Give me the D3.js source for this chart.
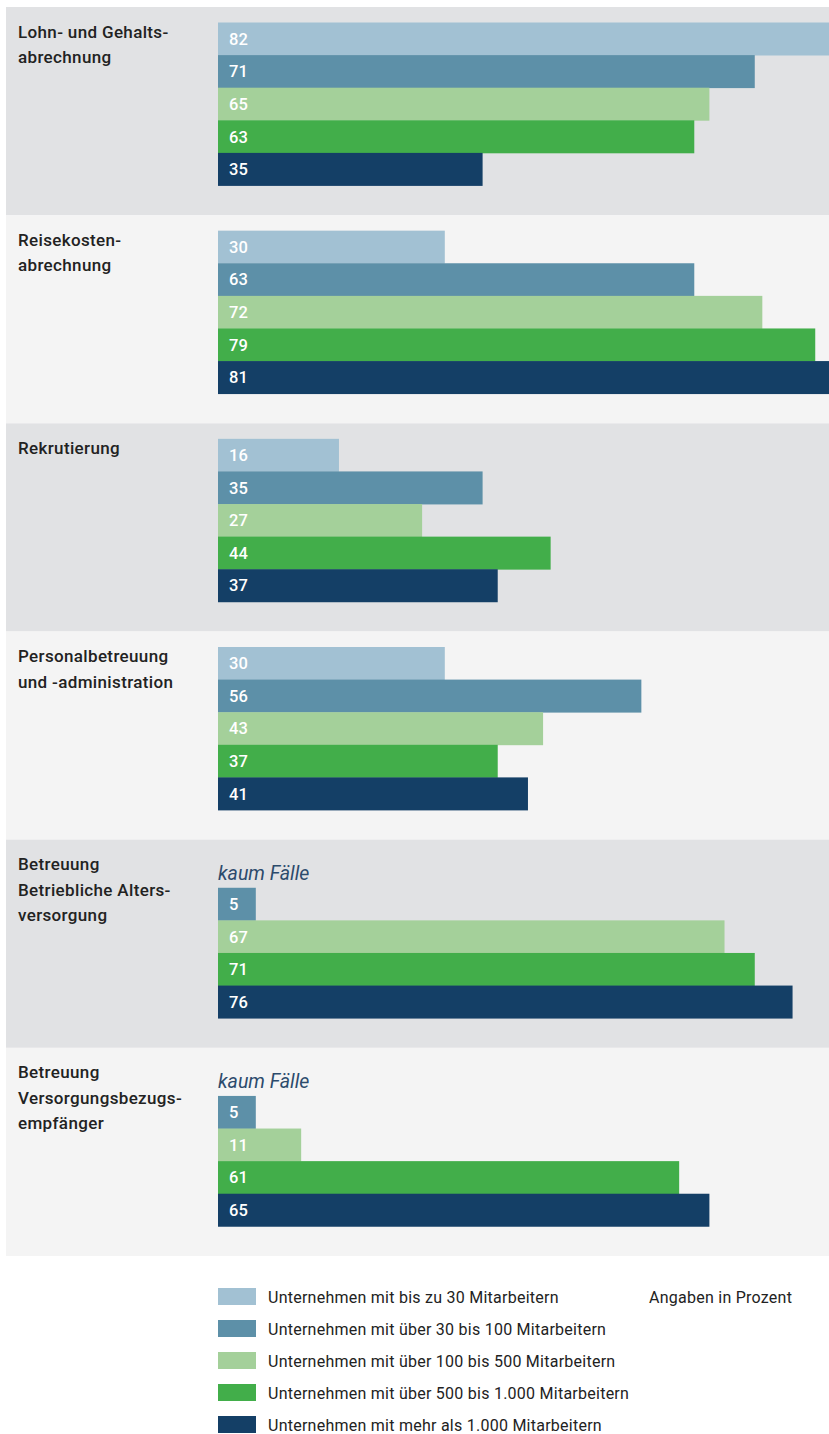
<!DOCTYPE html>
<html>
<head>
<meta charset="utf-8">
<script src="https://cdn.jsdelivr.net/npm/d3@7"></script>
<style>
  body { margin: 0; background: #fff; }
  svg { display: block; font-family: Roboto, "Liberation Sans", sans-serif; }
</style>
</head>
<body>
<svg id="chart" width="829" height="1434"></svg>
<script>
// categories (label lines per panel)
var categories = [
  ["Lohn- und Gehalts-", "abrechnung"],
  ["Reisekosten-", "abrechnung"],
  ["Rekrutierung"],
  ["Personalbetreuung", "und -administration"],
  ["Betreuung", "Betriebliche Alters-", "versorgung"],
  ["Betreuung", "Versorgungsbezugs-", "empfänger"]
];

var seriesNames = [
  "Unternehmen mit bis zu 30 Mitarbeitern",
  "Unternehmen mit über 30 bis 100 Mitarbeitern",
  "Unternehmen mit über 100 bis 500 Mitarbeitern",
  "Unternehmen mit über 500 bis 1.000 Mitarbeitern",
  "Unternehmen mit mehr als 1.000 Mitarbeitern"
];

// values per category, one per series (null = "kaum Fälle")
var valuesBis30    = [82, 30, 16, 30, null, null];
var values30to100  = [71, 63, 35, 56, 5, 5];
var values100to500 = [65, 72, 27, 43, 67, 11];
var values500to1000 = [63, 79, 44, 37, 71, 61];
var valuesOver1000 = [35, 81, 37, 41, 76, 65];

var series = [valuesBis30, values30to100, values100to500, values500to1000, valuesOver1000];
var colors = ["#a2c1d3", "#5d90a8", "#a4d09a", "#42ae4a", "#143f66"];
var panelFills = ["#e1e2e4", "#f4f4f4"];

var svg = d3.select("#chart");

var panelScale = d3.scaleBand()
  .domain(d3.range(categories.length))
  .range([7, 1256]);

var barScale = d3.scaleBand()
  .domain(d3.range(series.length))
  .range([15.5, 178.5]);

var xScale = d3.scaleLinear()
  .domain([0, 100])
  .range([218, 974]);

var panels = svg.selectAll(".panel")
  .data(categories)
  .join("g")
  .attr("class", "panel")
  .attr("transform", (d, i) => `translate(0, ${panelScale(i)})`);

panels.append("rect")
  .attr("x", 6)
  .attr("width", 823)
  .attr("height", panelScale.bandwidth())
  .attr("fill", (d, i) => panelFills[i % 2]);

// category labels
panels.each(function(lines) {
  d3.select(this).selectAll(".cat")
    .data(lines)
    .join("text")
    .attr("x", 18)
    .attr("y", (d, j) => 30.5 + j * 25.5)
    .attr("fill", "#222")
    .style("font-size", "17px")
    .style("letter-spacing", "0.35px")
    .style("font-weight", 500)
    .text(d => d);
});

// bars
panels.each(function(lines, ci) {
  var g = d3.select(this);
  var rows = series.map((s, si) => ({ si: si, v: s[ci] }));

  g.selectAll(".bar")
    .data(rows.filter(r => r.v != null))
    .join("rect")
    .attr("x", xScale(0))
    .attr("y", r => barScale(r.si))
    .attr("width", r => Math.min(xScale(r.v), 829) - xScale(0))
    .attr("height", barScale.bandwidth() + 0.4)
    .attr("fill", r => colors[r.si]);

  g.selectAll(".val")
    .data(rows.filter(r => r.v != null))
    .join("text")
    .attr("x", xScale(0) + 11)
    .attr("y", r => barScale(r.si) + barScale.bandwidth() / 2)
    .attr("dy", "0.36em")
    .attr("fill", "#fff")
    .style("font-size", "16.5px")
    .style("font-weight", 500)
    .text(r => r.v);

  g.selectAll(".none")
    .data(rows.filter(r => r.v == null))
    .join("text")
    .attr("x", xScale(0))
    .attr("y", r => barScale(r.si) + barScale.bandwidth() - 8)
    .attr("fill", "#2c4b6c")
    .style("font-size", "19.5px")
    .style("font-style", "italic")
    .text("kaum Fälle");
});

// legend
var legend = svg.selectAll(".legend")
  .data(seriesNames)
  .join("g")
  .attr("class", "legend")
  .attr("transform", (d, i) => `translate(218, ${1288 + i * 32})`);

legend.append("rect")
  .attr("width", 38)
  .attr("height", 17)
  .attr("fill", (d, i) => colors[i]);

legend.append("text")
  .attr("x", 50)
  .attr("y", 9)
  .attr("dy", "0.36em")
  .attr("fill", "#222")
  .style("font-size", "16px")
  .style("letter-spacing", "0.25px")
  .text(d => d);

svg.append("text")
  .attr("x", 649)
  .attr("y", 1297)
  .attr("dy", "0.36em")
  .attr("fill", "#222")
  .style("font-size", "16px")
  .style("letter-spacing", "0.25px")
  .text("Angaben in Prozent");
</script>
</body>
</html>
